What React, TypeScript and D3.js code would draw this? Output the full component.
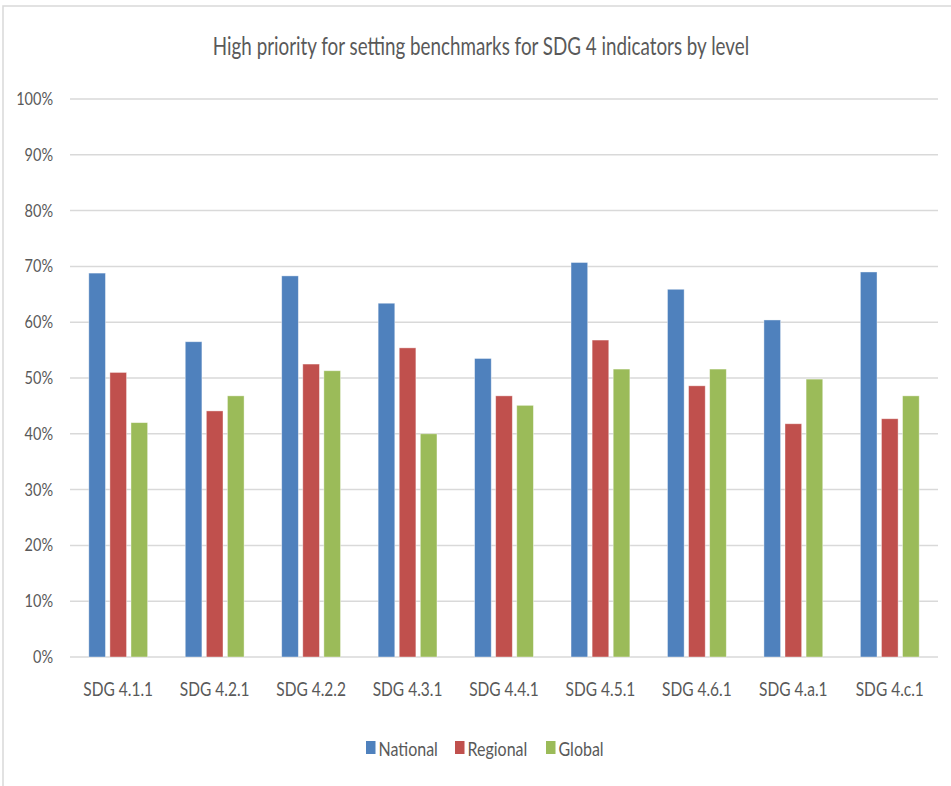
import { useEffect, useRef } from "react";
import * as d3 from "d3";

const categories = [
  "SDG 4.1.1", "SDG 4.2.1", "SDG 4.2.2", "SDG 4.3.1", "SDG 4.4.1",
  "SDG 4.5.1", "SDG 4.6.1", "SDG 4.a.1", "SDG 4.c.1",
];
const seriesNames = ["National", "Regional", "Global"];
const national = [68.8, 56.5, 68.3, 63.4, 53.5, 70.7, 65.9, 60.4, 69.0];
const regional = [51.0, 44.1, 52.5, 55.4, 46.8, 56.8, 48.6, 41.8, 42.7];
const global = [42.0, 46.8, 51.3, 40.0, 45.1, 51.6, 51.6, 49.8, 46.8];
const yTicks = [0, 10, 20, 30, 40, 50, 60, 70, 80, 90, 100];
const colors = ["#4f81bd", "#c0504d", "#9bbb59"];

const FONT = "Lato, 'Liberation Sans', sans-serif";
const TEXT_COLOR = "#595959";

// the source image is a bit taller than wide, so stretch text vertically
const stretch = (k: number) =>
  `transform: scaleY(${k}); transform-box: fill-box; transform-origin: center;`;

export default function App() {
  const ref = useRef<SVGSVGElement>(null);

  useEffect(() => {
    const svg = d3.select(ref.current);
    svg.selectAll("*").remove();

    const W = 951, H = 786;
    const margin = { top: 99, right: 13, bottom: 129, left: 70 };
    const width = W - margin.left - margin.right;
    const height = H - margin.top - margin.bottom;

    // chart frame (only left/top edges visible)
    svg.append("rect")
      .attr("x", 3).attr("y", 6)
      .attr("width", W + 10).attr("height", H + 10)
      .attr("fill", "#ffffff")
      .attr("stroke", "#d9d9d9")
      .attr("stroke-width", 1.5);

    svg.append("text")
      .attr("x", 481)
      .attr("y", 53)
      .attr("text-anchor", "middle")
      .attr("font-family", FONT)
      .attr("font-size", "18.8px")
      .attr("fill", TEXT_COLOR)
      .attr("style", stretch(1.3))
      .text("High priority for setting benchmarks for SDG 4 indicators by level");

    const g = svg.append("g")
      .attr("transform", `translate(${margin.left},${margin.top})`);

    const values = [national, regional, global];
    const rows = categories.map((c, i) => ({
      cat: c,
      vals: seriesNames.map((s, j) => ({ key: s, value: values[j][i], color: colors[j] })),
    }));

    const x0 = d3.scaleBand()
      .domain(categories)
      .range([0, width])
      .paddingInner(0.39)
      .paddingOuter(0.195);

    const x1 = d3.scaleBand()
      .domain(seriesNames)
      .range([0, x0.bandwidth()])
      .paddingInner(0.21);

    const y = d3.scaleLinear().domain([0, 100]).range([height, 0]);

    // gridlines
    g.selectAll(".grid")
      .data(yTicks)
      .enter()
      .append("line")
      .attr("x1", 0)
      .attr("x2", width)
      .attr("y1", d => y(d))
      .attr("y2", d => y(d))
      .attr("stroke", "#d9d9d9")
      .attr("stroke-width", 1.5);

    // y labels
    const yAxis = g.append("g")
      .call(d3.axisLeft(y).tickValues(yTicks).tickSize(0).tickPadding(17).tickFormat(d => `${d}%`));
    yAxis.select(".domain").remove();
    yAxis.selectAll("text")
      .attr("font-family", FONT)
      .attr("font-size", "14.5px")
      .attr("fill", TEXT_COLOR)
      .attr("style", stretch(1.15));

    // bars
    const groups = g.selectAll(".group")
      .data(rows)
      .enter()
      .append("g")
      .attr("transform", d => `translate(${x0(d.cat)},0)`);

    groups.selectAll("rect")
      .data(d => d.vals)
      .enter()
      .append("rect")
      .attr("x", d => x1(d.key)!)
      .attr("y", d => y(d.value))
      .attr("width", x1.bandwidth())
      .attr("height", d => height - y(d.value))
      .attr("fill", d => d.color)
      .attr("stroke", "#ffffff")
      .attr("stroke-opacity", 0.5)
      .attr("stroke-width", 0.8);

    // x labels
    const xAxis = g.append("g")
      .attr("transform", `translate(0,${height})`)
      .call(d3.axisBottom(x0).tickSize(0).tickPadding(27));
    xAxis.select(".domain").remove();
    xAxis.selectAll("text")
      .attr("font-family", FONT)
      .attr("font-size", "15.5px")
      .attr("fill", TEXT_COLOR)
      .attr("style", stretch(1.2));

    // legend
    const legendX = [366, 455, 546];
    const legend = svg.append("g");
    seriesNames.forEach((s, i) => {
      legend.append("rect")
        .attr("x", legendX[i])
        .attr("y", 741)
        .attr("width", 9.5)
        .attr("height", 13)
        .attr("fill", colors[i]);
      legend.append("text")
        .attr("x", legendX[i] + 12.5)
        .attr("y", 754.5)
        .attr("font-family", FONT)
        .attr("font-size", "16px")
        .attr("fill", TEXT_COLOR)
        .attr("style", stretch(1.25))
        .text(s);
    });
  }, []);

  return (
    <svg
      ref={ref}
      width={951}
      height={786}
      style={{ position: "absolute", left: 0, top: 0, background: "#fff" }}
    />
  );
}
